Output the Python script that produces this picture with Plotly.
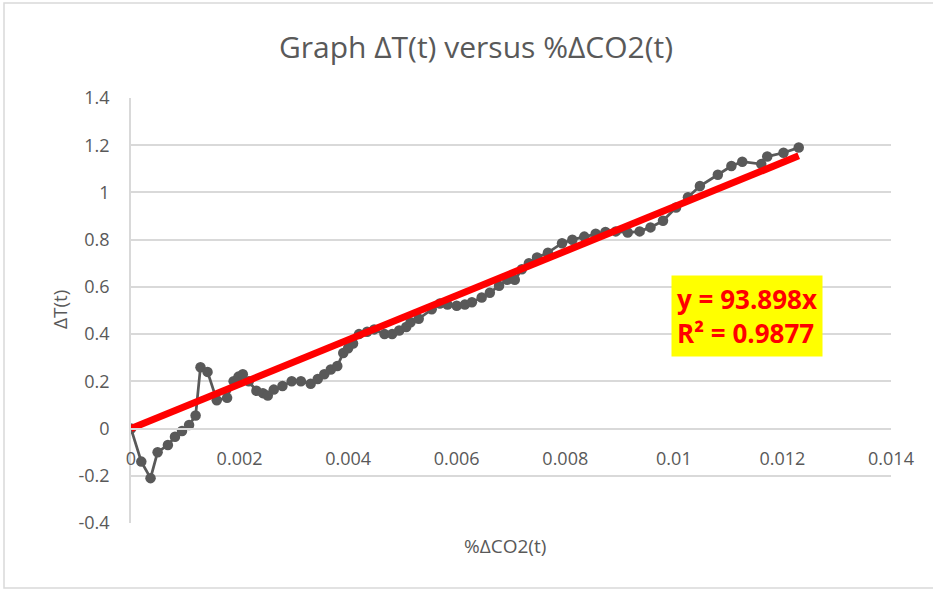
import plotly.graph_objects as go

# Data
co2_pct = [0.00000, 0.00019, 0.00036, 0.00049, 0.00068, 0.00081, 0.00094, 0.00107, 0.00119,
           0.00128, 0.00141, 0.00158, 0.00177, 0.00189, 0.00198, 0.00206, 0.00217, 0.00231,
           0.00243, 0.00252, 0.00263, 0.00279, 0.00296, 0.00313, 0.00331, 0.00344, 0.00356,
           0.00368, 0.00380, 0.00391, 0.00400, 0.00409, 0.00420, 0.00435, 0.00448, 0.00467,
           0.00481, 0.00494, 0.00507, 0.00515, 0.00530, 0.00554, 0.00569, 0.00583, 0.00600,
           0.00615, 0.00628, 0.00646, 0.00661, 0.00678, 0.00693, 0.00707, 0.00720, 0.00733,
           0.00748, 0.00768, 0.00794, 0.00813, 0.00835, 0.00856, 0.00874, 0.00893, 0.00915,
           0.00937, 0.00957, 0.00980, 0.01004, 0.01026, 0.01048, 0.01081, 0.01106, 0.01126,
           0.01161, 0.01172, 0.01202, 0.01230]
delta_t = [0.00, -0.14, -0.21, -0.10, -0.07, -0.035, -0.01, 0.015, 0.055,
           0.26, 0.24, 0.12, 0.13, 0.20, 0.22, 0.23, 0.20, 0.16,
           0.15, 0.14, 0.165, 0.18, 0.20, 0.20, 0.19, 0.21, 0.23,
           0.25, 0.265, 0.32, 0.34, 0.36, 0.40, 0.41, 0.42, 0.40,
           0.40, 0.415, 0.43, 0.45, 0.465, 0.505, 0.53, 0.525, 0.52,
           0.525, 0.535, 0.555, 0.575, 0.605, 0.63, 0.63, 0.675, 0.70,
           0.725, 0.745, 0.785, 0.80, 0.813, 0.825, 0.833, 0.835, 0.83,
           0.835, 0.852, 0.88, 0.936, 0.98, 1.027, 1.075, 1.112, 1.13,
           1.12, 1.152, 1.168, 1.19]
slope = 93.898
r_squared = 0.9877

x_ticks = [0, 0.002, 0.004, 0.006, 0.008, 0.010, 0.012, 0.014]
x_tick_labels = ["0", "0.002", "0.004", "0.006", "0.008", "0.01", "0.012", "0.014"]
y_ticks = [-0.4, -0.2, 0, 0.2, 0.4, 0.6, 0.8, 1.0, 1.2, 1.4]
y_tick_labels = ["-0.4", "-0.2", "0", "0.2", "0.4", "0.6", "0.8", "1", "1.2", "1.4"]

title_text = "Graph ΔT(t) versus %ΔCO2(t)"
x_title = "%ΔCO2(t)"
y_title = "ΔT(t)"

FONT = "Open Sans"
GRAY = "#595959"
GRID = "#d9d9d9"

trend_x = [0, max(co2_pct)]
trend_y = [slope * v for v in trend_x]

fig = go.Figure()
fig.add_trace(go.Scatter(
    x=co2_pct, y=delta_t, mode="lines+markers",
    line=dict(color=GRAY, width=2.75),
    marker=dict(color=GRAY, size=10.5),
    showlegend=False, hoverinfo="x+y"))
fig.add_trace(go.Scatter(
    x=trend_x, y=trend_y, mode="lines",
    line=dict(color="#ff0000", width=7),
    showlegend=False))

# figure placed at the page origin (body margin removed by post_script)
W, H = 933, 589
# plot area in page pixels
P_L, P_R, P_T, P_B = 131, 891, 98, 523
ml, mt = P_L, P_T
mr, mb = W - P_R, H - P_B
pw, ph = P_R - P_L, P_B - P_T
ymin, ymax = -0.4, 1.4
zero_pos = (0 - ymin) / (ymax - ymin)


def px_x(page_x):
    return (page_x - P_L) / pw


def px_y(page_y):
    return (P_B - page_y) / ph


fig.update_layout(
    width=W, height=H,
    margin=dict(l=ml, r=mr, t=mt, b=mb, autoexpand=False),
    paper_bgcolor="white", plot_bgcolor="white",
    font=dict(family=FONT, color=GRAY),
    title=dict(text=title_text, x=476 / W, xanchor="center",
               y=1 - 47 / H, yanchor="middle",
               font=dict(family=FONT, size=30, color=GRAY)),
    xaxis=dict(range=[0, 0.014], tickvals=x_ticks, ticktext=x_tick_labels,
               showgrid=False, zeroline=False, showline=True, linecolor=GRID, linewidth=1.5,
               anchor="free", position=zero_pos, ticks="", ticklabelstandoff=14,
               tickfont=dict(family=FONT, size=18, color=GRAY)),
    yaxis=dict(range=[ymin, ymax], tickvals=y_ticks, ticktext=y_tick_labels,
               showgrid=True, gridcolor=GRID, gridwidth=1.5, zeroline=False,
               showline=True, linecolor=GRID, linewidth=1.5, ticks="",
               ticklabelstandoff=16, domain=[0, 1],
               tickfont=dict(family=FONT, size=18, color=GRAY)),
)

fig.add_annotation(text=x_title, xref="paper", yref="paper",
                   x=px_x(505), y=px_y(546), xanchor="center", yanchor="middle",
                   showarrow=False, font=dict(family=FONT, size=19, color=GRAY))
fig.add_annotation(text=y_title, xref="paper", yref="paper", textangle=-90,
                   x=px_x(60), y=px_y(310), xanchor="center", yanchor="middle",
                   showarrow=False, font=dict(family=FONT, size=19, color=GRAY))
fig.add_annotation(text=f"y = {slope}x<br>R² = {r_squared}", xref="paper", yref="paper",
                   x=px_x(747), y=px_y(316), xanchor="center", yanchor="middle", align="left",
                   showarrow=False, bgcolor="#ffff00", borderpad=5,
                   font=dict(family=FONT, size=26, color="#ff0000", weight="bold"))
# chart-area border
fig.add_shape(type="rect", xref="paper", yref="paper",
              x0=px_x(4), x1=px_x(945), y0=px_y(588), y1=px_y(3),
              line=dict(color=GRID, width=1.5), layer="below")

fig.write_html("out.html", config={"displayModeBar": False},
               post_script="document.body.style.margin='0';document.body.style.overflow='hidden';")
